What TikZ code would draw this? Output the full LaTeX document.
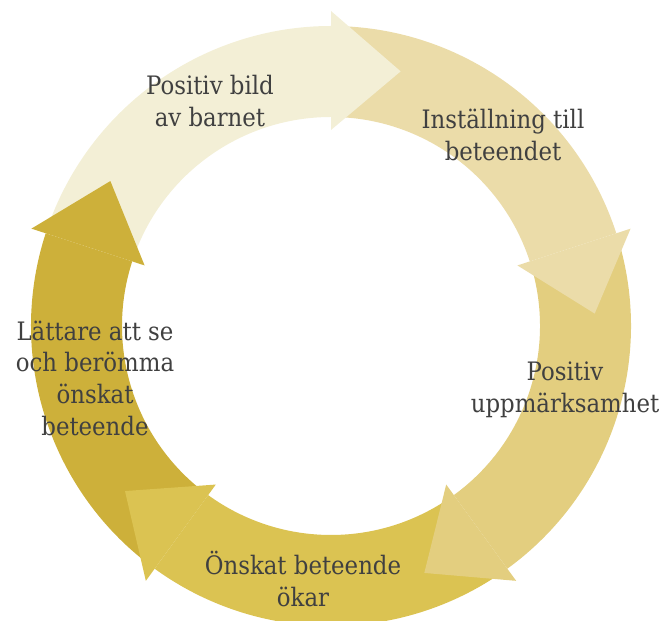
\documentclass[tikz,border=0pt]{standalone}
\usepackage{fontspec}
\setmainfont{DejaVu Serif Condensed}
\definecolor{cA}{HTML}{F3EFD6}
\definecolor{cB}{HTML}{EBDCA9}
\definecolor{cC}{HTML}{E3CE7F}
\definecolor{cD}{HTML}{DBC352}
\definecolor{cE}{HTML}{CDB03A}
\definecolor{txt}{HTML}{404040}
\tikzset{
  lbl/.style={align=center, text=txt, font=\fontsize{25.5}{31.8}\selectfont, inner sep=0pt}
}
\newcommand{\cycshaft}[3]{% color, start angle, back angle
  \fill[#1] (#2:300) arc[start angle=#2, end angle=#3, radius=300]
     -- (#3:209) arc[start angle=#3, end angle=#2, radius=209] -- cycle;}
\newcommand{\cychead}[2]{% color, back angle
  \fill[#1] (#2:196) -- (#2:315) -- ({#2-15.3}:264) -- cycle;}
\begin{document}
\begin{tikzpicture}[x=1bp,y=1bp]
\useasboundingbox (0,0) rectangle (667,621);
\coordinate (C) at (331,295);
\begin{scope}[shift={(C)}]
  \cycshaft{cA}{160}{90}
  \cycshaft{cB}{88}{18}
  \cycshaft{cC}{16}{-54}
  \cycshaft{cD}{-56}{-126}
  \cycshaft{cE}{-128}{-198}
  \cychead{cA}{90}
  \cychead{cB}{18}
  \cychead{cC}{-54}
  \cychead{cD}{-126}
  \cychead{cE}{-198}
\end{scope}
\node[lbl] (l1) at (210,520) {Positiv bild\\av barnet};
\node[lbl] (l2) at (503,486) {Inställning till\\beteendet};
\node[lbl] (l3) at (565,231) {Positiv\\uppmärksamhet};
\node[lbl] (l4) at (303,42) {Önskat beteende\\ökar};
\node[lbl] (l5) at (95,243) {Lättare att se\\och berömma\\önskat\\beteende};
\end{tikzpicture}
\end{document}
